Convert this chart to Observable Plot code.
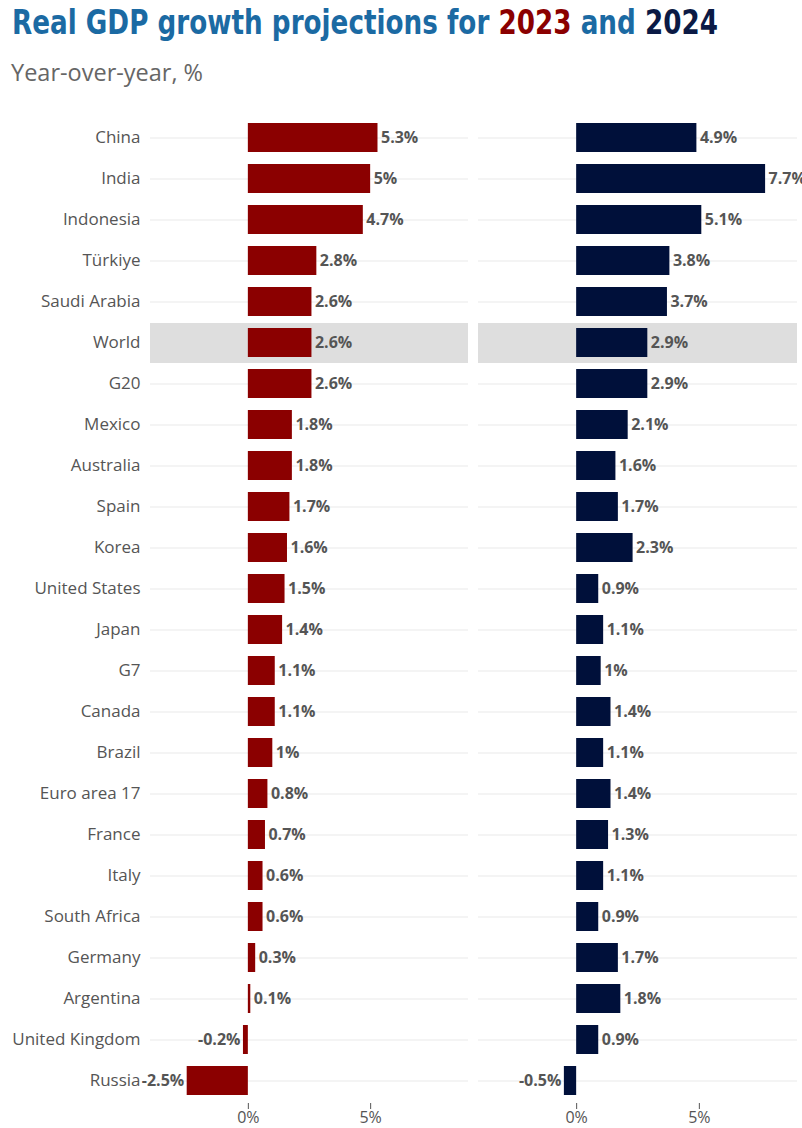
<!DOCTYPE html>
<html>
<head>
<meta charset="utf-8">
<script src="https://cdn.jsdelivr.net/npm/d3@7"></script>
<script src="https://cdn.jsdelivr.net/npm/@observablehq/plot@0.6"></script>
<style>
  html, body { margin: 0; padding: 0; background: #fff; }
  #header { height: 100px; position: relative; overflow: hidden; }
  #title { position: absolute; left: 12px; top: 0px; line-height: 46px; font-family: "DejaVu Sans", sans-serif; font-weight: bold; font-size: 33px; color: #1b6aa3; white-space: nowrap; display: inline-block; transform-origin: 0 0; }
  #subtitle { position: absolute; left: 11px; top: 56px; line-height: 32px; font-family: "Open Sans", "Noto Sans", sans-serif; font-size: 23.5px; color: #666; white-space: nowrap; }
  .y2023 { color: #8b0000; }
  .y2024 { color: #0b1a45; }
  #chart { display: flex; flex-direction: row; align-items: flex-start; }
  #chart svg { display: block; }
</style>
</head>
<body>
<div id="header">
  <div id="title">Real GDP growth projections for <span class="y2023">2023</span> and <span class="y2024">2024</span></div>
  <div id="subtitle">Year-over-year, %</div>
</div>
<div id="chart"></div>
<script>
const countries = ["China","India","Indonesia","Türkiye","Saudi Arabia","World","G20","Mexico","Australia","Spain","Korea","United States","Japan","G7","Canada","Brazil","Euro area 17","France","Italy","South Africa","Germany","Argentina","United Kingdom","Russia"];
const growth2023 = [5.3,5,4.7,2.8,2.6,2.6,2.6,1.8,1.8,1.7,1.6,1.5,1.4,1.1,1.1,1,0.8,0.7,0.6,0.6,0.3,0.1,-0.2,-2.5];
const growth2024 = [4.9,7.7,5.1,3.8,3.7,2.9,2.9,2.1,1.6,1.7,2.3,0.9,1.1,1,1.4,1.1,1.4,1.3,1.1,0.9,1.7,1.8,0.9,-0.5];
const xTicks = [0, 5];
const highlight = ["World"];

const fmt = v => `${v}%`;

// fit title width to the reference
const t = document.getElementById("title");
const tw = t.getBoundingClientRect().width;
t.style.transform = `scaleX(${706 / tw})`;

function panel(values, color, opts) {
  const rows = countries.map((c, i) => ({country: c, value: values[i]}));
  return Plot.plot({
    width: opts.width,
    height: 1028,
    marginTop: 15,
    marginBottom: 25,
    marginLeft: opts.marginLeft,
    marginRight: opts.marginRight,
    style: {fontFamily: "'Open Sans', 'Noto Sans', sans-serif", fontSize: "16px", color: "#555", background: "#fff"},
    x: {domain: [-4, 9], ticks: xTicks, tickFormat: fmt, label: null, tickSize: 6, tickPadding: 2},
    y: {domain: countries, paddingInner: 0.3, paddingOuter: 0.15, label: null, axis: null},
    marks: [
      Plot.ruleY(highlight, {stroke: "#dedede", strokeWidth: 40}),
      Plot.ruleY(countries.filter(c => !highlight.includes(c)), {stroke: "#e9e9e9", strokeWidth: 1}),
      opts.yAxis ? Plot.axisY({tickSize: 0, tickPadding: 10, fontSize: 17, label: null}) : null,
      Plot.barX(rows, {x: "value", y: "country", fill: color}),
      Plot.text(rows.filter(d => d.value >= 0), {x: "value", y: "country", text: d => fmt(d.value), textAnchor: "start", dx: 3, fontWeight: "bold", fontSize: 16, fill: "#555"}),
      Plot.text(rows.filter(d => d.value < 0), {x: "value", y: "country", text: d => fmt(d.value), textAnchor: "end", dx: -3, fontWeight: "bold", fontSize: 16, fill: "#555"})
    ]
  });
}

const chart = document.getElementById("chart");
chart.appendChild(panel(growth2023, "#8b0000", {width: 468, marginLeft: 150, marginRight: 0, yAxis: true}));
chart.appendChild(panel(growth2024, "#00103a", {width: 334, marginLeft: 10, marginRight: 5, yAxis: false}));
</script>
</body>
</html>
